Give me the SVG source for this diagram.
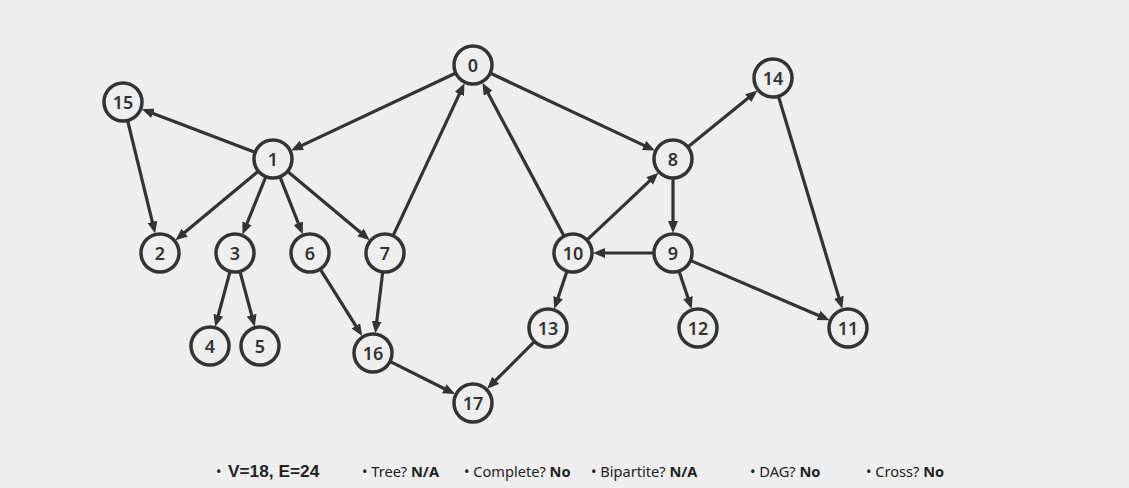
<svg xmlns="http://www.w3.org/2000/svg" width="1129" height="488" viewBox="0 0 1129 488">
<style>
.bg{fill:#eeeeee}
.node circle{fill:#eeeeee;stroke:#333333;stroke-width:3.5}
.node text{font-family:"Noto Sans","Open Sans",sans-serif;font-size:18px;font-weight:600;fill:#333333;text-anchor:middle;dominant-baseline:central}
.edges line{stroke:#333333;stroke-width:3.2}
.leg{font-family:"Noto Sans","Open Sans",sans-serif;font-size:14.6px;fill:#222222}
.leg tspan.b{font-weight:bold}
.big{font-family:"Liberation Sans",Arial,sans-serif;font-size:17.3px;font-weight:bold;fill:#222222}
</style>
<defs>
<marker id="arr" markerUnits="userSpaceOnUse" markerWidth="13" markerHeight="11" refX="4" refY="5" orient="auto" viewBox="0 0 13 11">
<path d="M0,0 L12,5 L0,10 z" fill="#333333"/>
</marker>
</defs>
<rect class="bg" x="0" y="0" width="1129" height="488"/>
<g id="edges" class="edges">
<line x1="454.9" y1="73.5" x2="298.3" y2="147.1" marker-end="url(#arr)"/>
<line x1="254.3" y1="151.9" x2="149.2" y2="111.9" marker-end="url(#arr)"/>
<line x1="127.8" y1="121.4" x2="153.3" y2="225.8" marker-end="url(#arr)"/>
<line x1="257.6" y1="171.8" x2="181.6" y2="235.1" marker-end="url(#arr)"/>
<line x1="265.5" y1="177.5" x2="245.5" y2="227.1" marker-end="url(#arr)"/>
<line x1="280.3" y1="177.6" x2="299.8" y2="227.0" marker-end="url(#arr)"/>
<line x1="288.3" y1="171.9" x2="363.6" y2="235.0" marker-end="url(#arr)"/>
<line x1="393.5" y1="234.9" x2="461.1" y2="90.4" marker-end="url(#arr)"/>
<line x1="229.8" y1="272.3" x2="217.3" y2="319.0" marker-end="url(#arr)"/>
<line x1="240.2" y1="272.3" x2="252.7" y2="319.0" marker-end="url(#arr)"/>
<line x1="320.7" y1="269.9" x2="358.0" y2="329.3" marker-end="url(#arr)"/>
<line x1="382.6" y1="272.9" x2="376.3" y2="325.2" marker-end="url(#arr)"/>
<line x1="390.9" y1="361.9" x2="447.9" y2="390.5" marker-end="url(#arr)"/>
<line x1="533.9" y1="342.1" x2="492.8" y2="383.2" marker-end="url(#arr)"/>
<line x1="491.1" y1="73.5" x2="647.7" y2="147.1" marker-end="url(#arr)"/>
<line x1="563.6" y1="235.3" x2="486.2" y2="89.8" marker-end="url(#arr)"/>
<line x1="587.6" y1="239.3" x2="652.6" y2="178.2" marker-end="url(#arr)"/>
<line x1="688.5" y1="146.4" x2="751.3" y2="95.6" marker-end="url(#arr)"/>
<line x1="673" y1="179" x2="673" y2="225" marker-end="url(#arr)"/>
<line x1="653" y1="253" x2="601" y2="253" marker-end="url(#arr)"/>
<line x1="566.7" y1="272" x2="556.8" y2="301.4" marker-end="url(#arr)"/>
<line x1="679.3" y1="272" x2="689.2" y2="301.4" marker-end="url(#arr)"/>
<line x1="691.4" y1="260.9" x2="822.2" y2="317.0" marker-end="url(#arr)"/>
<line x1="778.7" y1="97.2" x2="840.0" y2="301.1" marker-end="url(#arr)"/>
</g>
<g id="n0" class="node"><circle cx="473" cy="65" r="19"/><text x="473" y="65">0</text></g>
<g id="n1" class="node"><circle cx="273" cy="159" r="19"/><text x="273" y="159">1</text></g>
<g id="n2" class="node"><circle cx="160" cy="253" r="19"/><text x="160" y="253">2</text></g>
<g id="n3" class="node"><circle cx="235" cy="253" r="19"/><text x="235" y="253">3</text></g>
<g id="n4" class="node"><circle cx="210" cy="346" r="19"/><text x="210" y="346">4</text></g>
<g id="n5" class="node"><circle cx="260" cy="346" r="19"/><text x="260" y="346">5</text></g>
<g id="n6" class="node"><circle cx="310" cy="253" r="19"/><text x="310" y="253">6</text></g>
<g id="n7" class="node"><circle cx="385" cy="253" r="19"/><text x="385" y="253">7</text></g>
<g id="n8" class="node"><circle cx="673" cy="159" r="19"/><text x="673" y="159">8</text></g>
<g id="n9" class="node"><circle cx="673" cy="253" r="19"/><text x="673" y="253">9</text></g>
<g id="n10" class="node"><circle cx="573" cy="253" r="19"/><text x="573" y="253">10</text></g>
<g id="n11" class="node"><circle cx="848" cy="328" r="19"/><text x="848" y="328">11</text></g>
<g id="n12" class="node"><circle cx="698" cy="328" r="19"/><text x="698" y="328">12</text></g>
<g id="n13" class="node"><circle cx="548" cy="328" r="19"/><text x="548" y="328">13</text></g>
<g id="n14" class="node"><circle cx="773" cy="78" r="19"/><text x="773" y="78">14</text></g>
<g id="n15" class="node"><circle cx="123" cy="102" r="19"/><text x="123" y="102">15</text></g>
<g id="n16" class="node"><circle cx="373" cy="353" r="19"/><text x="373" y="353">16</text></g>
<g id="n17" class="node"><circle cx="473" cy="403" r="19"/><text x="473" y="403">17</text></g>
<g id="legend">
<text class="leg" x="216" y="477">•</text>
<text class="big" x="228" y="477">V=18, E=24</text>
<text class="leg" x="362" y="477">• Tree? <tspan class="b">N/A</tspan></text>
<text class="leg" x="464" y="477">• Complete? <tspan class="b">No</tspan></text>
<text class="leg" x="591" y="477">• Bipartite? <tspan class="b">N/A</tspan></text>
<text class="leg" x="750" y="477">• DAG? <tspan class="b">No</tspan></text>
<text class="leg" x="866" y="477">• Cross? <tspan class="b">No</tspan></text>
</g>
</svg>
